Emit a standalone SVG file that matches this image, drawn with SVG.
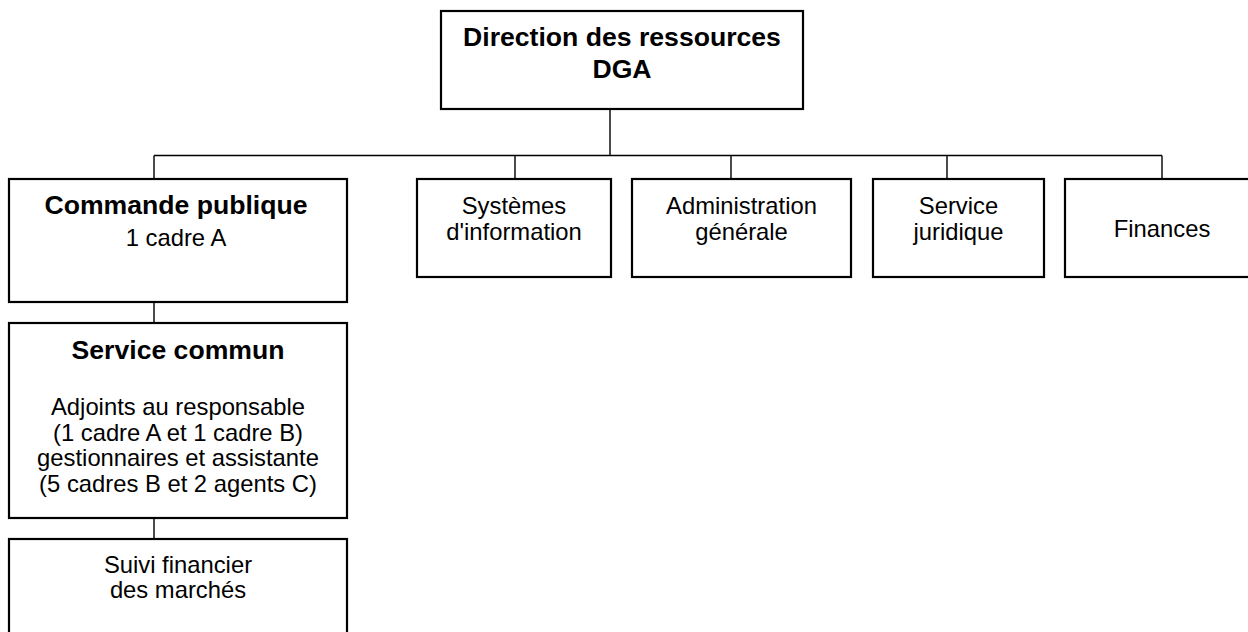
<svg xmlns="http://www.w3.org/2000/svg" width="1248" height="632" viewBox="0 0 1248 632">
<style>
.box{fill:#fff;stroke:#000;stroke-width:2.2}
.c{fill:none;stroke:#000;stroke-width:1.4}
text{font-family:"Liberation Sans",Arial,sans-serif;fill:#000;text-anchor:middle}
.b{font-weight:bold;font-size:26.6px}
.r{font-size:23.8px}
</style>
<rect width="1248" height="632" fill="#fff"/>
<g id="connectors">
<path class="c" d="M610 109V155.5M154 155.5H1162M154 155.5V179M515 155.5V179M731 155.5V179M947 155.5V179M1162 155.5V179M154 302V323M154 518V539"/>
</g>
<g id="n-direction">
<rect class="box" x="441" y="11" width="362" height="98"/>
<text class="b" x="622" y="46">Direction des ressources</text>
<text class="b" x="622" y="78">DGA</text>
</g>
<g id="n-commande">
<rect class="box" x="9" y="179" width="338" height="123"/>
<text class="b" x="176" y="214">Commande publique</text>
<text class="r" x="176" y="246">1 cadre A</text>
</g>
<g id="n-systemes">
<rect class="box" x="417" y="179" width="194" height="98"/>
<text class="r" x="514" y="214">Systèmes</text>
<text class="r" x="514" y="240">d'information</text>
</g>
<g id="n-admin">
<rect class="box" x="632" y="179" width="219" height="98"/>
<text class="r" x="741.5" y="214">Administration</text>
<text class="r" x="741.5" y="240">générale</text>
</g>
<g id="n-juridique">
<rect class="box" x="873" y="179" width="171" height="98"/>
<text class="r" x="958.5" y="214">Service</text>
<text class="r" x="958.5" y="240">juridique</text>
</g>
<g id="n-finances">
<rect class="box" x="1065" y="179" width="194" height="98"/>
<text class="r" x="1162" y="237">Finances</text>
</g>
<g id="n-service-commun">
<rect class="box" x="9" y="323" width="338" height="195"/>
<text class="b" x="178" y="359">Service commun</text>
<text class="r" x="178" y="415">Adjoints au responsable</text>
<text class="r" x="178" y="440.5">(1 cadre A et 1 cadre B)</text>
<text class="r" x="178" y="466">gestionnaires et assistante</text>
<text class="r" x="178" y="491.5">(5 cadres B et 2 agents C)</text>
</g>
<g id="n-suivi">
<rect class="box" x="9" y="539" width="338" height="110"/>
<text class="r" x="178" y="573">Suivi financier</text>
<text class="r" x="178" y="598">des marchés</text>
</g>
</svg>
